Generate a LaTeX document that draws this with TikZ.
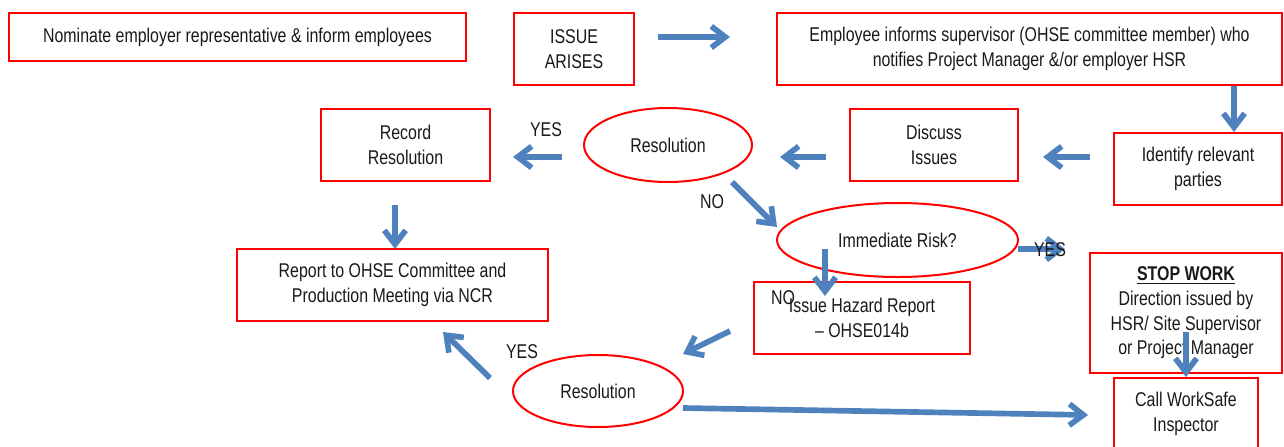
\documentclass[tikz,border=0pt]{standalone}
\usepackage{xcolor}
\usepackage{fontspec}
\setmainfont{Liberation Sans}[FakeStretch=0.8]
\usepackage{tikz}
\usetikzlibrary{arrows.meta, shapes.geometric}
\definecolor{flowblue}{HTML}{4F81BD}

\begin{document}
\begin{tikzpicture}[x=0.03cm, y=-0.03cm,
  box/.style={draw=red, line width=0.06cm, align=center, inner sep=0pt, text=black!90, font=\fontsize{17}{21}\selectfont},
  oval/.style={box, ellipse},
  lbl/.style={text=black!90, font=\fontsize{17}{21}\selectfont},
  flow/.style={-{Straight Barb[length=0.42cm, width=0.64cm]}, line width=0.17cm, flowblue}]

  \useasboundingbox (0,0) rectangle (1284,446);
  \clip (0,0) rectangle (1284,446);

  \node [box, minimum width=13.71cm, minimum height=1.44cm] (Nom) at (237.5,37) {Nominate employer representative \& inform employees};
  \node [box, minimum width=3.6cm, minimum height=2.16cm] (Issue) at (574,49) {ISSUE\\ARISES};
  \node [box, minimum width=15.15cm, minimum height=2.16cm] (Inform) at (1029.5,49) {Employee informs supervisor (OHSE committee member) who\\notifies Project Manager \&/or employer HSR};
  \node [box, minimum width=5.04cm, minimum height=2.16cm] (Ident) at (1198,169) {Identify relevant\\parties};
  \node [box, minimum width=5.04cm, minimum height=2.16cm] (Disc) at (934,145) {Discuss\\Issues};
  \node [oval, minimum width=5.04cm, minimum height=2.22cm] (Res1) at (668,145) {Resolution};
  \node [box, minimum width=5.07cm, minimum height=2.16cm] (Rec) at (405.5,145) {Record\\Resolution};
  \node [box, minimum width=9.33cm, minimum height=2.16cm] (Rep) at (392.5,285) {Report to OHSE Committee and\\Production Meeting via NCR};
  \node [oval, minimum width=7.23cm, minimum height=2.22cm] (Risk) at (897.5,240) {Immediate Risk?};
  \node [box, minimum width=6.48cm, minimum height=2.16cm] (Haz) at (862,318) {Issue Hazard Report\\ -- OHSE014b};
  \node [oval, minimum width=5.1cm, minimum height=2.16cm] (Res2) at (598,391) {Resolution};
  \node [box, minimum width=5.76cm, minimum height=3.6cm] (Stop) at (1186,313) {\underline{\textbf{STOP WORK}}\\Direction issued by\\HSR/ Site Supervisor\\or Project Manager};
  \node [box, minimum width=4.32cm, minimum height=2.16cm] (Call) at (1186,414) {Call WorkSafe\\Inspector};

  \foreach \n/\p/\q in {1/{658,37}/{730,37}, 2/{1234,86}/{1234,132}, 3/{1090,157}/{1043,157},
      4/{826,157}/{780,157}, 5/{562,157}/{513,157}, 6/{395,205}/{395,249},
      7/{732,182}/{777,227}, 8/{1018,249}/{1065,249}, 9/{825,249}/{825,296},
      10/{730,331}/{683,354}, 11/{490,378}/{443,332}, 12/{683,408}/{1088,415},
      13/{1186,332}/{1186,377}} {
    \coordinate (s\n) at (\p);
    \coordinate (e\n) at (\q);
    \draw [flow] (s\n) -- (e\n);
  }

  \node [lbl] (Yes1) at (546,130) {YES};
  \node [lbl] (No1) at (712,202) {NO};
  \node [lbl] (Yes2) at (1050,250) {YES};
  \node [lbl] (No2) at (783,298) {NO};
  \node [lbl] (Yes3) at (522,352) {YES};
\end{tikzpicture}
\end{document}
